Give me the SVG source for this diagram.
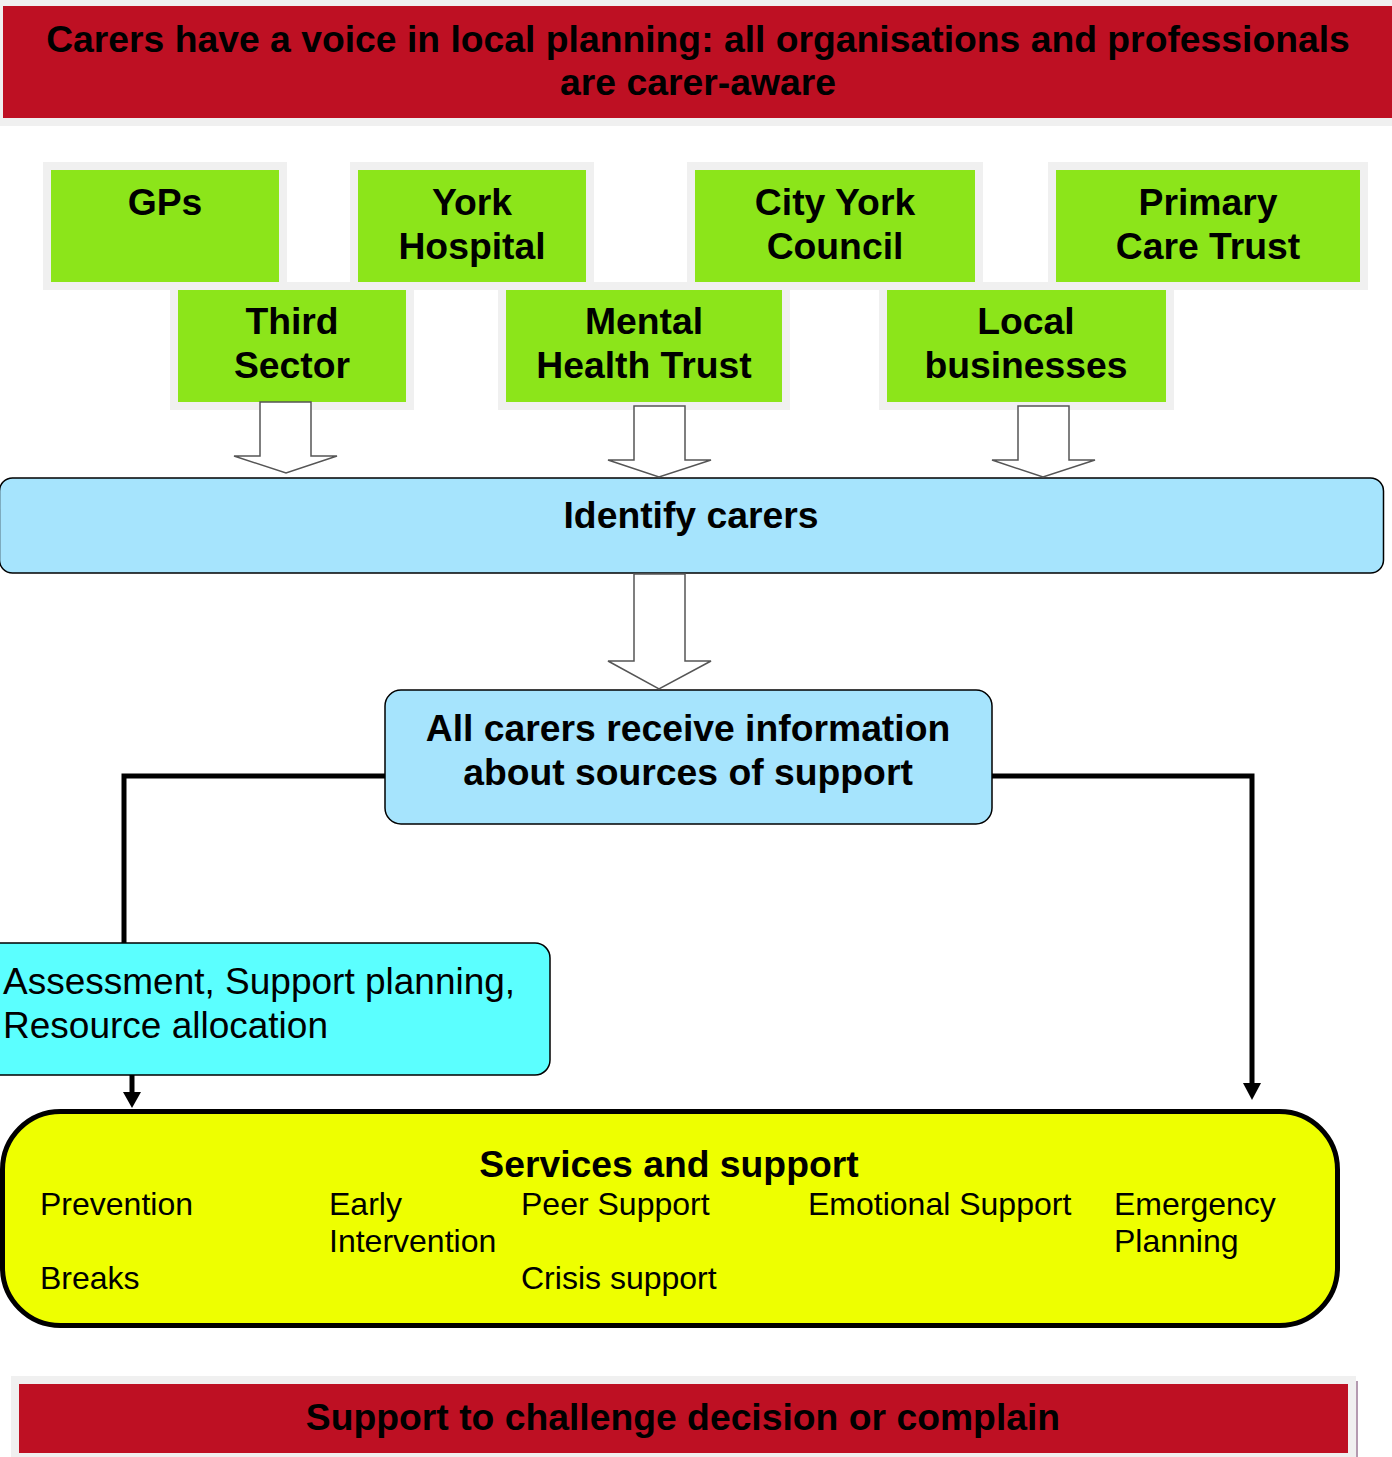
<svg xmlns="http://www.w3.org/2000/svg" width="1392" height="1457" viewBox="0 0 1392 1457">
<defs>
<style>
.b{font-family:"Liberation Sans",Arial,sans-serif;font-weight:bold;font-size:37.3px;fill:#000;text-anchor:middle}
.r{font-family:"Liberation Sans",Arial,sans-serif;font-size:32px;fill:#000}
.ra{font-family:"Liberation Sans",Arial,sans-serif;font-size:37px;fill:#000}
.halo{fill:#f0f0f0}
.red{fill:#be1023}
.grn{fill:#8ce51a}
.hollow{fill:#fff;stroke:#555;stroke-width:1.5}
.conn{fill:none;stroke:#000;stroke-width:5}
.head{fill:#000}
</style>
</defs>
<rect width="1392" height="1457" fill="#fff"/>

<g id="title">
<rect x="0" y="0" width="1392" height="126" class="halo"/>
<rect x="3" y="6" width="1389" height="112" class="red"/>
<text class="b" x="698" y="52">Carers have a voice in local planning: all organisations and professionals</text>
<text class="b" x="698" y="95">are carer-aware</text>
</g>

<g id="gps">
<rect x="43" y="162" width="244" height="128" class="halo"/>
<rect x="51" y="170" width="228" height="112" class="grn"/>
<text class="b" x="165" y="215">GPs</text>
</g>
<g id="york-hospital">
<rect x="350" y="162" width="244" height="128" class="halo"/>
<rect x="358" y="170" width="228" height="112" class="grn"/>
<text class="b" x="472" y="215">York</text>
<text class="b" x="472" y="259">Hospital</text>
</g>
<g id="city-york-council">
<rect x="687" y="162" width="296" height="128" class="halo"/>
<rect x="695" y="170" width="280" height="112" class="grn"/>
<text class="b" x="835" y="215">City York</text>
<text class="b" x="835" y="259">Council</text>
</g>
<g id="primary-care-trust">
<rect x="1048" y="162" width="320" height="128" class="halo"/>
<rect x="1056" y="170" width="304" height="112" class="grn"/>
<text class="b" x="1208" y="215">Primary</text>
<text class="b" x="1208" y="259">Care Trust</text>
</g>
<g id="third-sector">
<rect x="170" y="282" width="244" height="128" class="halo"/>
<rect x="178" y="290" width="228" height="112" class="grn"/>
<text class="b" x="292" y="334">Third</text>
<text class="b" x="292" y="378">Sector</text>
</g>
<g id="mental-health-trust">
<rect x="498" y="282" width="292" height="128" class="halo"/>
<rect x="506" y="290" width="276" height="112" class="grn"/>
<text class="b" x="644" y="334">Mental</text>
<text class="b" x="644" y="378">Health Trust</text>
</g>
<g id="local-businesses">
<rect x="879" y="282" width="295" height="128" class="halo"/>
<rect x="887" y="290" width="279" height="112" class="grn"/>
<text class="b" x="1026" y="334">Local</text>
<text class="b" x="1026" y="378">businesses</text>
</g>

<g id="identify-carers">
<rect x="-0.5" y="478" width="1384" height="95" rx="13" fill="#a6e4fd" stroke="#000" stroke-width="1.5"/>
<text class="b" x="691" y="528">Identify carers</text>
</g>

<g id="all-carers-info">
<rect x="385" y="690" width="607" height="134" rx="16" fill="#a6e4fd" stroke="#000" stroke-width="1.5"/>
<text class="b" x="688" y="741">All carers receive information</text>
<text class="b" x="688" y="785">about sources of support</text>
</g>

<g id="assessment">
<rect x="-20" y="943" width="570" height="132" rx="15" fill="#5bffff" stroke="#000" stroke-width="1.5"/>
<text class="ra" x="3" y="994">Assessment, Support planning,</text>
<text class="ra" x="3" y="1038">Resource allocation</text>
</g>

<g id="services-and-support">
<rect x="2.5" y="1111.5" width="1335" height="214" rx="58" fill="#eeff00" stroke="#000" stroke-width="5"/>
<text class="b" x="669" y="1177">Services and support</text>
<text class="r" x="40" y="1215">Prevention</text>
<text class="r" x="40" y="1289">Breaks</text>
<text class="r" x="329" y="1215">Early</text>
<text class="r" x="329" y="1252">Intervention</text>
<text class="r" x="521" y="1215">Peer Support</text>
<text class="r" x="521" y="1289">Crisis support</text>
<text class="r" x="808" y="1215">Emotional Support</text>
<text class="r" x="1114" y="1215">Emergency</text>
<text class="r" x="1114" y="1252">Planning</text>
</g>

<g id="challenge">
<rect x="11" y="1376" width="1345" height="81" class="halo"/>
<rect x="19" y="1384" width="1329" height="69" class="red"/>
<line x1="1357" y1="1381" x2="1357" y2="1457" stroke="#b49ab0" stroke-width="2"/>
<text class="b" x="683" y="1430">Support to challenge decision or complain</text>
</g>

<g id="connectors">
<path class="hollow" d="M260,402 L311,402 L311,456 L337,456 L286,473 L234,456 L260,456 Z"/>
<path class="hollow" d="M634,406 L685,406 L685,460 L711,460 L659,477 L608,460 L634,460 Z"/>
<path class="hollow" d="M1018,406 L1069,406 L1069,460 L1095,460 L1043,477 L992,460 L1018,460 Z"/>
<path class="hollow" d="M634,574 L685,574 L685,661 L711,661 L659,689 L608,661 L634,661 Z"/>
<path class="conn" d="M385,776 L124,776 L124,943"/>
<path class="conn" d="M992,776 L1252,776 L1252,1085"/>
<path class="head" d="M1243,1083 L1261,1083 L1252,1100 Z"/>
<path class="conn" d="M132,1075 L132,1094"/>
<path class="head" d="M123,1092 L141,1092 L132,1108 Z"/>
</g>
</svg>
